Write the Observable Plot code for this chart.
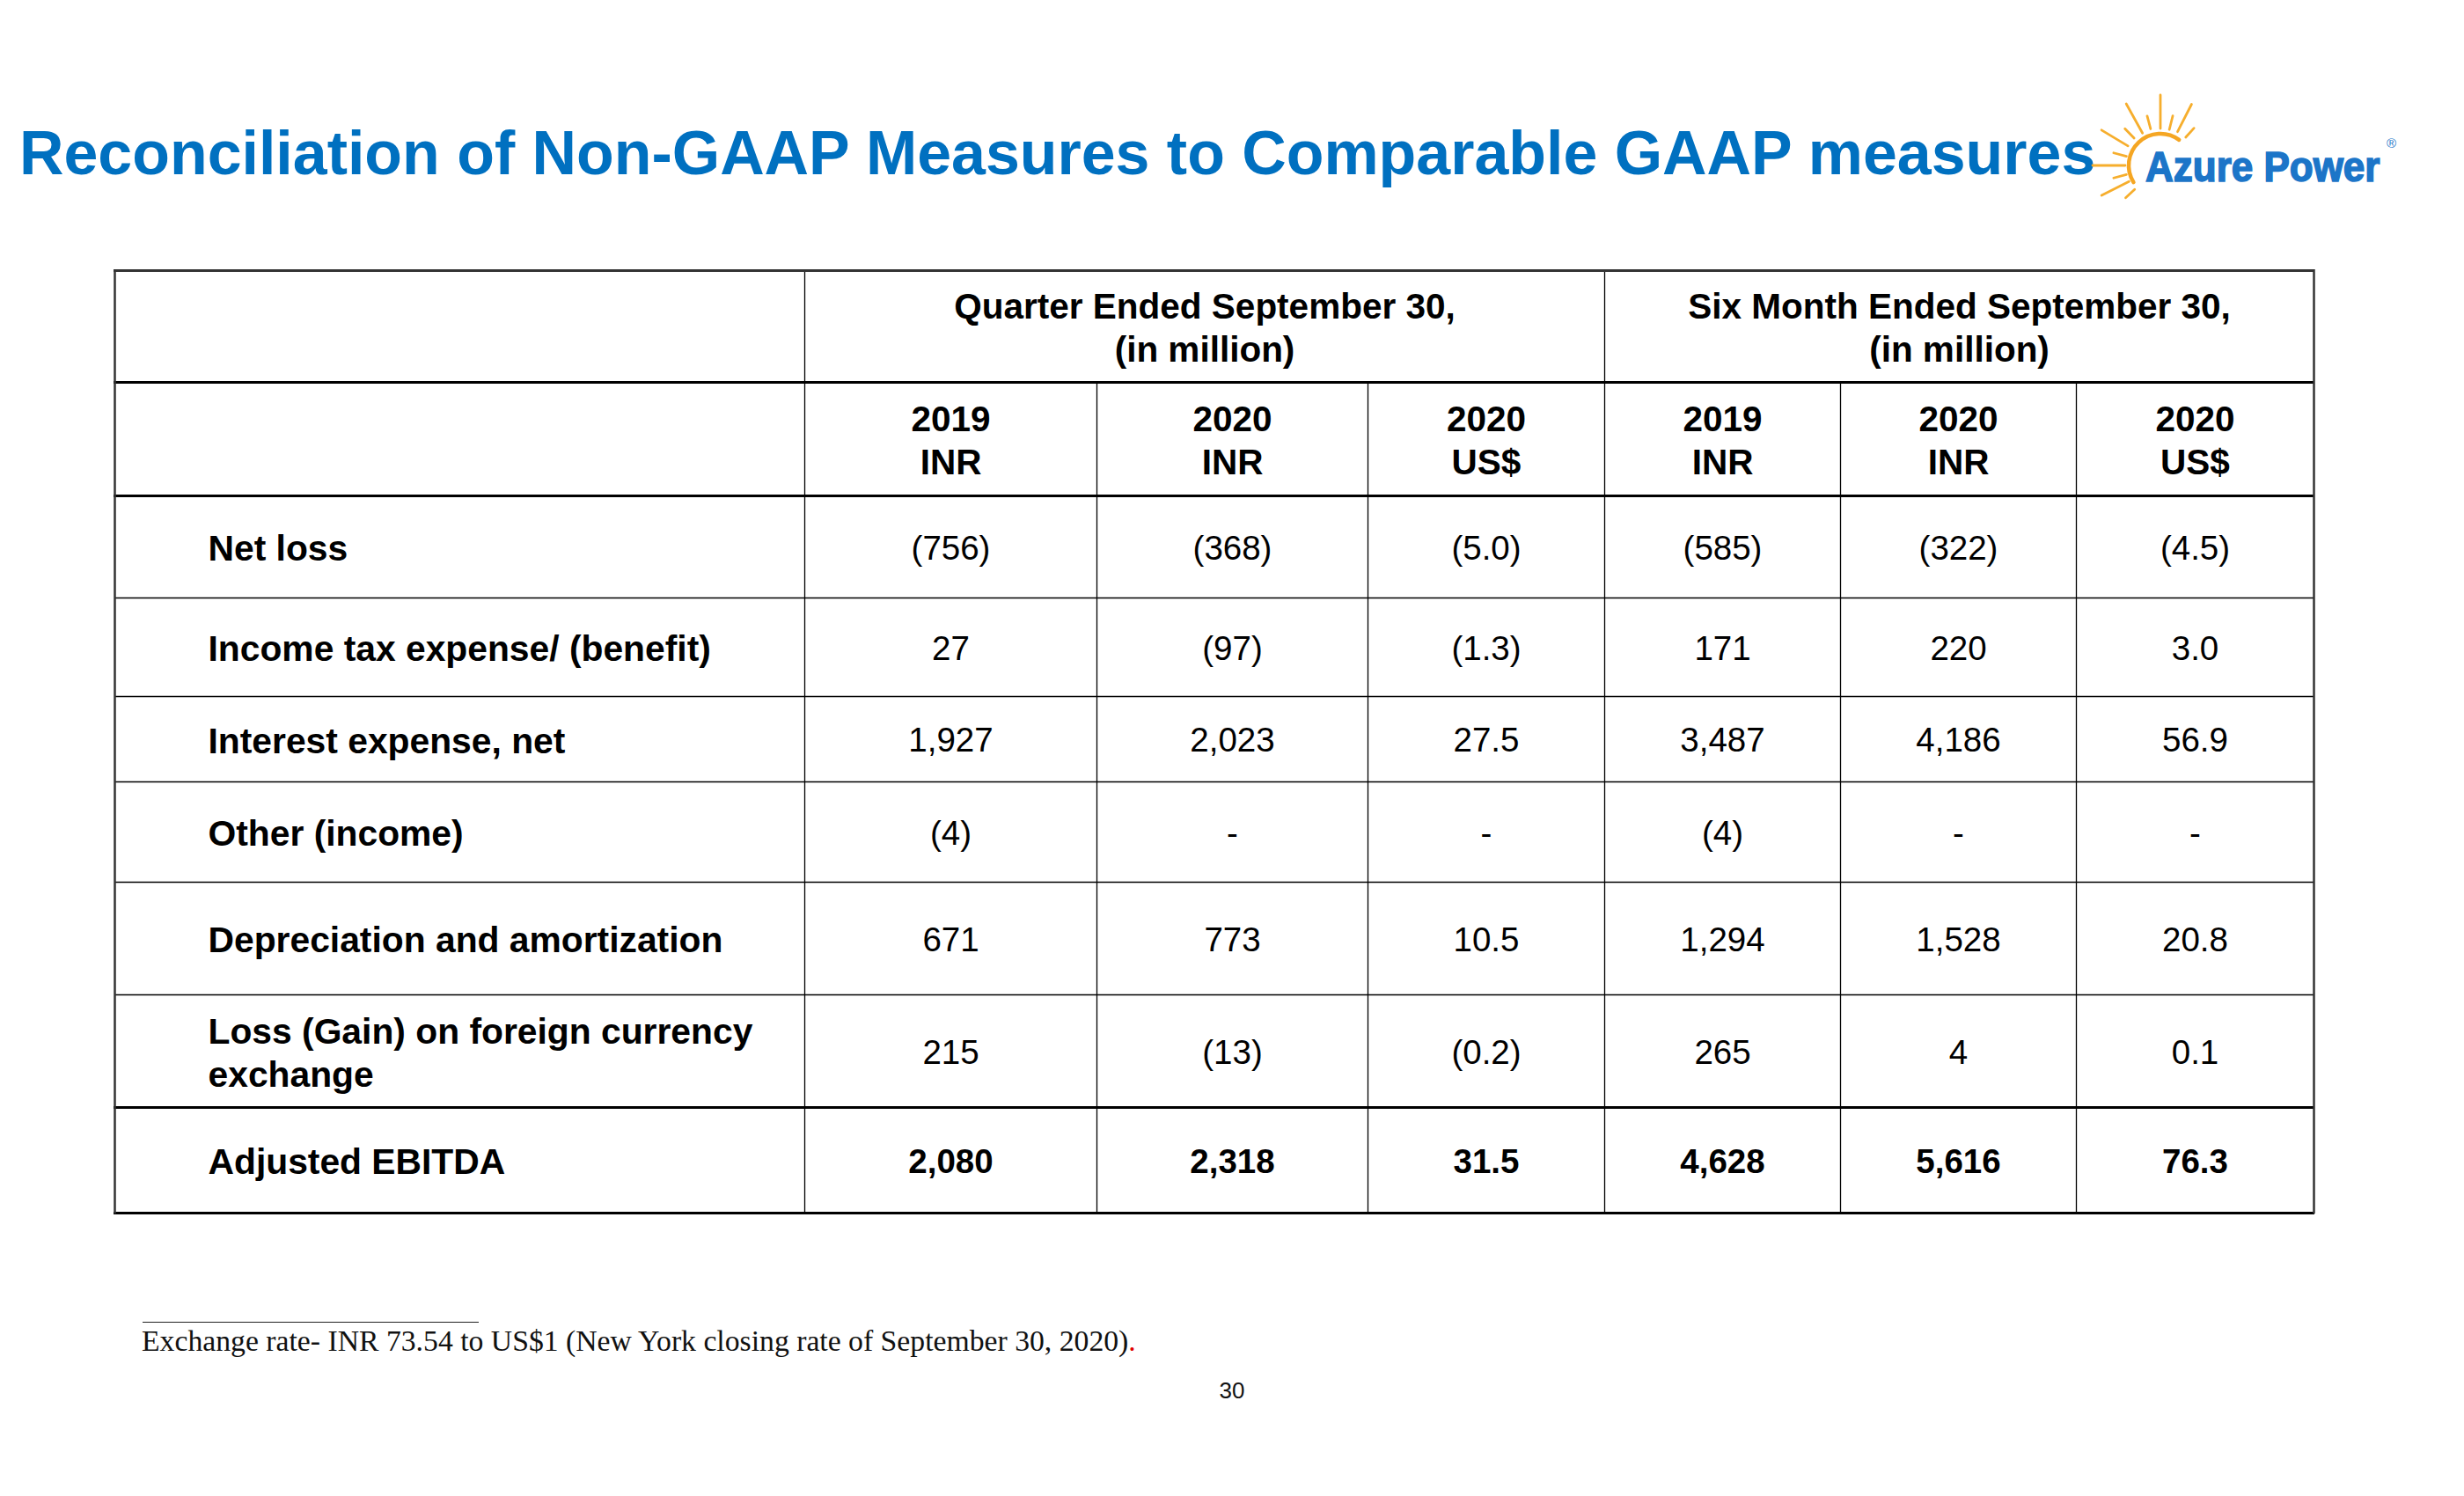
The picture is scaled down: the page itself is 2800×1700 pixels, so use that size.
<!DOCTYPE html>
<html>
<head>
<meta charset="utf-8">
<script src="https://cdn.jsdelivr.net/npm/d3@7"></script>
<script src="https://cdn.jsdelivr.net/npm/@observablehq/plot@0.6"></script>
<style>
  html, body { margin: 0; padding: 0; background: #fff; }
  #page { position: relative; width: 2800px; height: 1700px; overflow: hidden; background: #fff;
          font-family: "Liberation Sans", Arial, sans-serif; }
  #title { position: absolute; left: 22px; top: 140px; font-size: 69.5px; line-height: 1; font-weight: bold;
           color: #0070C0; white-space: nowrap; }
  #logo { position: absolute; left: 0; top: 0; }
  #table { position: absolute; left: 0; top: 290px; }
  #fnline { position: absolute; left: 162px; top: 1502px; width: 382px; height: 0; border-top: 1.5px solid #222; }
  #footnote { position: absolute; left: 161px; top: 1506px; font-family: "Liberation Serif", "Times New Roman", serif;
              font-size: 34px; line-height: 1; white-space: nowrap; color: #111; }
  #footnote .red { color: #e00000; }
  #pagenum { position: absolute; left: 1400px; top: 1567px; transform: translateX(-50%); font-size: 26px;
             line-height: 1; color: #111; }
</style>
</head>
<body>
<div id="page">
  <div id="title">Reconciliation of Non-GAAP Measures to Comparable GAAP measures</div>
  <div id="table"></div>
  <div id="fnline"></div>
  <div id="footnote">Exchange rate- INR 73.54 to US$1 (New York closing rate of September 30, 2020)<span class="red">.</span></div>
  <div id="pagenum">30</div>
</div>
<script>
// ---------------- DATA ----------------
const rowLabels = [
  "Net loss",
  "Income tax expense/ (benefit)",
  "Interest expense, net",
  "Other (income)",
  "Depreciation and amortization",
  "Loss (Gain) on foreign currency\nexchange",
  "Adjusted EBITDA"
];
const groupHeaders = ["Quarter Ended September 30,\n(in million)", "Six Month Ended September 30,\n(in million)"];
const colYears = ["2019", "2020", "2020", "2019", "2020", "2020"];
const colCurrencies = ["INR", "INR", "US$", "INR", "INR", "US$"];

// values in million (null = "-")
const quarter2019INR = [-756, 27, 1927, -4, 671, 215, 2080];
const quarter2020INR = [-368, -97, 2023, null, 773, -13, 2318];
const quarter2020USD = [-5.0, -1.3, 27.5, null, 10.5, -0.2, 31.5];
const sixMonth2019INR = [-585, 171, 3487, -4, 1294, 265, 4628];
const sixMonth2020INR = [-322, 220, 4186, null, 1528, 4, 5616];
const sixMonth2020USD = [-4.5, 3.0, 56.9, null, 20.8, 0.1, 76.3];

// ---------------- LAYOUT ----------------
const W = 2800, TOP = 290, H = 1110;
const colEdges = [130, 914, 1246, 1554, 1823, 2091, 2359, 2629];
const rowEdges = [307, 434, 563, 679, 791, 888, 1002, 1130, 1258, 1378];
const labelX = 236;
const FONT = "'Liberation Sans', Arial, sans-serif";

const mid = (a, b) => (a + b) / 2;
const fmtINR = d3.format(",.0f"), fmtUSD = d3.format(".1f");
const cellText = (v, f) => v == null ? "-" : (v < 0 ? `(${f(-v)})` : f(v));

const series = [quarter2019INR, quarter2020INR, quarter2020USD, sixMonth2019INR, sixMonth2020INR, sixMonth2020USD];
const formats = colCurrencies.map(c => c === "US$" ? fmtUSD : fmtINR);

const lastRow = rowLabels.length - 1;
const valueCells = [];
series.forEach((s, j) => s.forEach((v, i) => valueCells.push({
  x: mid(colEdges[j + 1], colEdges[j + 2]),
  y: mid(rowEdges[i + 2], rowEdges[i + 3]),
  text: cellText(v, formats[j]),
  bold: i === lastRow
})));

const groupCells = [
  {x: mid(colEdges[1], colEdges[4]), y: mid(rowEdges[0], rowEdges[1]), text: groupHeaders[0]},
  {x: mid(colEdges[4], colEdges[7]), y: mid(rowEdges[0], rowEdges[1]), text: groupHeaders[1]}
];
const subHeadCells = colYears.map((yr, j) => ({
  x: mid(colEdges[j + 1], colEdges[j + 2]),
  y: mid(rowEdges[1], rowEdges[2]),
  text: `${yr}\n${colCurrencies[j]}`
}));
const labelCells = rowLabels.map((t, i) => ({x: labelX, y: mid(rowEdges[i + 2], rowEdges[i + 3]), text: t}));

const thickH = [1, 2, 8, 9].map(i => ({y: rowEdges[i]}));
const thinH = [3, 4, 5, 6, 7].map(i => ({y: rowEdges[i]}));
const topH = [{y: rowEdges[0]}];
const fullV = [1, 4].map(j => ({x: colEdges[j], y1: rowEdges[0], y2: rowEdges[9]}));
const partV = [2, 3, 5, 6].map(j => ({x: colEdges[j], y1: rowEdges[1], y2: rowEdges[9]}));
const borderV = [0, 7].map(j => ({x: colEdges[j], y1: rowEdges[0] - 1, y2: rowEdges[9] + 1}));

const x1 = colEdges[0], x2 = colEdges[7];

const chart = Plot.plot({
  width: W, height: H,
  marginTop: 0, marginBottom: 0, marginLeft: 0, marginRight: 0,
  x: {type: "linear", domain: [0, W], range: [0, W], axis: null},
  y: {type: "linear", domain: [TOP, TOP + H], range: [0, H], axis: null},
  style: {fontFamily: FONT, background: "transparent", color: "#000", overflow: "visible"},
  marks: [
    Plot.ruleY(thinH, {y: "y", x1, x2, stroke: "#000", strokeWidth: 1.3}),
    Plot.ruleX(partV, {x: "x", y1: "y1", y2: "y2", stroke: "#000", strokeWidth: 1.3}),
    Plot.ruleX(fullV, {x: "x", y1: "y1", y2: "y2", stroke: "#000", strokeWidth: 1.3}),
    Plot.ruleY(thickH, {y: "y", x1: x1 - 1, x2: x2 + 1, stroke: "#000", strokeWidth: 3.2}),
    Plot.ruleY(topH, {y: "y", x1: x1 - 1, x2: x2 + 1, stroke: "#333", strokeWidth: 3}),
    Plot.ruleX(borderV, {x: "x", y1: "y1", y2: "y2", stroke: "#333", strokeWidth: 2.5}),
    Plot.text(groupCells, {x: "x", y: "y", text: "text", fontSize: 40.5, fontWeight: "bold",
      fontFamily: FONT, lineHeight: 1.2, textAnchor: "middle", fill: "#000"}),
    Plot.text(subHeadCells, {x: "x", y: "y", text: "text", fontSize: 40.5, fontWeight: "bold",
      fontFamily: FONT, lineHeight: 1.2, textAnchor: "middle", fill: "#000"}),
    Plot.text(labelCells, {x: "x", y: "y", text: "text", fontSize: 40.8, fontWeight: "bold",
      fontFamily: FONT, lineHeight: 1.2, textAnchor: "start", dy: 0, fill: "#000"}),
    Plot.text(valueCells.filter(d => !d.bold), {x: "x", y: "y", text: "text", fontSize: 38.5,
      fontFamily: FONT, textAnchor: "middle", dy: 2, fill: "#000"}),
    Plot.text(valueCells.filter(d => d.bold), {x: "x", y: "y", text: "text", fontSize: 38.5, fontWeight: "bold",
      fontFamily: FONT, textAnchor: "middle", dy: 2, fill: "#000"})
  ]
});
document.getElementById("table").appendChild(chart);

// ---------------- LOGO (decoration) ----------------
(function drawLogo() {
  const svg = d3.select("#page").append("svg").attr("id", "logo")
    .attr("width", 2800).attr("height", 300).style("position", "absolute").style("left", 0).style("top", 0);
  const cx = 2455, cy = 188;
  const rays = [[270, 42, 80], [284, 42, 58], [297, 43, 78], [312, 43, 57], [241, 42, 80], [255, 43, 58],
                [211, 43, 78], [226, 43, 58], [180, 40, 77], [195, 40, 55], [165, 40, 55], [153, 40, 75], [137, 40, 54]];
  const rad = a => a * Math.PI / 180;
  svg.selectAll("line.ray").data(rays).join("line").attr("class", "ray")
    .attr("x1", d => cx + d[1] * Math.cos(rad(d[0]))).attr("y1", d => cy + d[1] * Math.sin(rad(d[0])))
    .attr("x2", d => cx + d[2] * Math.cos(rad(d[0]))).attr("y2", d => cy + d[2] * Math.sin(rad(d[0])))
    .attr("stroke", "#F6AE2D").attr("stroke-width", 2.8).attr("stroke-linecap", "round");
  const r = 36, a0 = rad(148), a1 = rad(306);
  svg.append("path")
    .attr("d", `M${cx + r * Math.cos(a0)},${cy + r * Math.sin(a0)} A${r},${r} 0 0 1 ${cx + r * Math.cos(a1)},${cy + r * Math.sin(a1)}`)
    .attr("fill", "none").attr("stroke", "#F5A623").attr("stroke-width", 4.5).attr("stroke-linecap", "round");
  svg.append("text").attr("transform", "translate(2438,206) scale(1,1.08)").attr("x", 0).attr("y", 0)
    .attr("font-family", FONT).attr("font-weight", "bold")
    .attr("font-size", 44).attr("fill", "#1C75C8").attr("stroke", "#1C75C8").attr("stroke-width", 1.5)
    .text("Azure Power");
  svg.append("text").attr("x", 2712).attr("y", 168).attr("font-family", FONT)
    .attr("font-size", 15).attr("fill", "#1C75C8").text("®");
})();

// ---------------- fit text widths ----------------
function fitWidth(el, target) {
  const fs = parseFloat(getComputedStyle(el).fontSize);
  const w = el.getBoundingClientRect().width;
  if (w > 0) el.style.fontSize = (fs * target / w) + "px";
  return parseFloat(el.style.fontSize);
}
const titleEl = document.getElementById("title");
const tfs = fitWidth(titleEl, 2360);
titleEl.style.top = (199 - 0.8465 * tfs) + "px";
const fnEl = document.getElementById("footnote");
const ffs = fitWidth(fnEl, 1130);
fnEl.style.top = (1535 - 0.8375 * ffs) + "px";
</script>
</body>
</html>
